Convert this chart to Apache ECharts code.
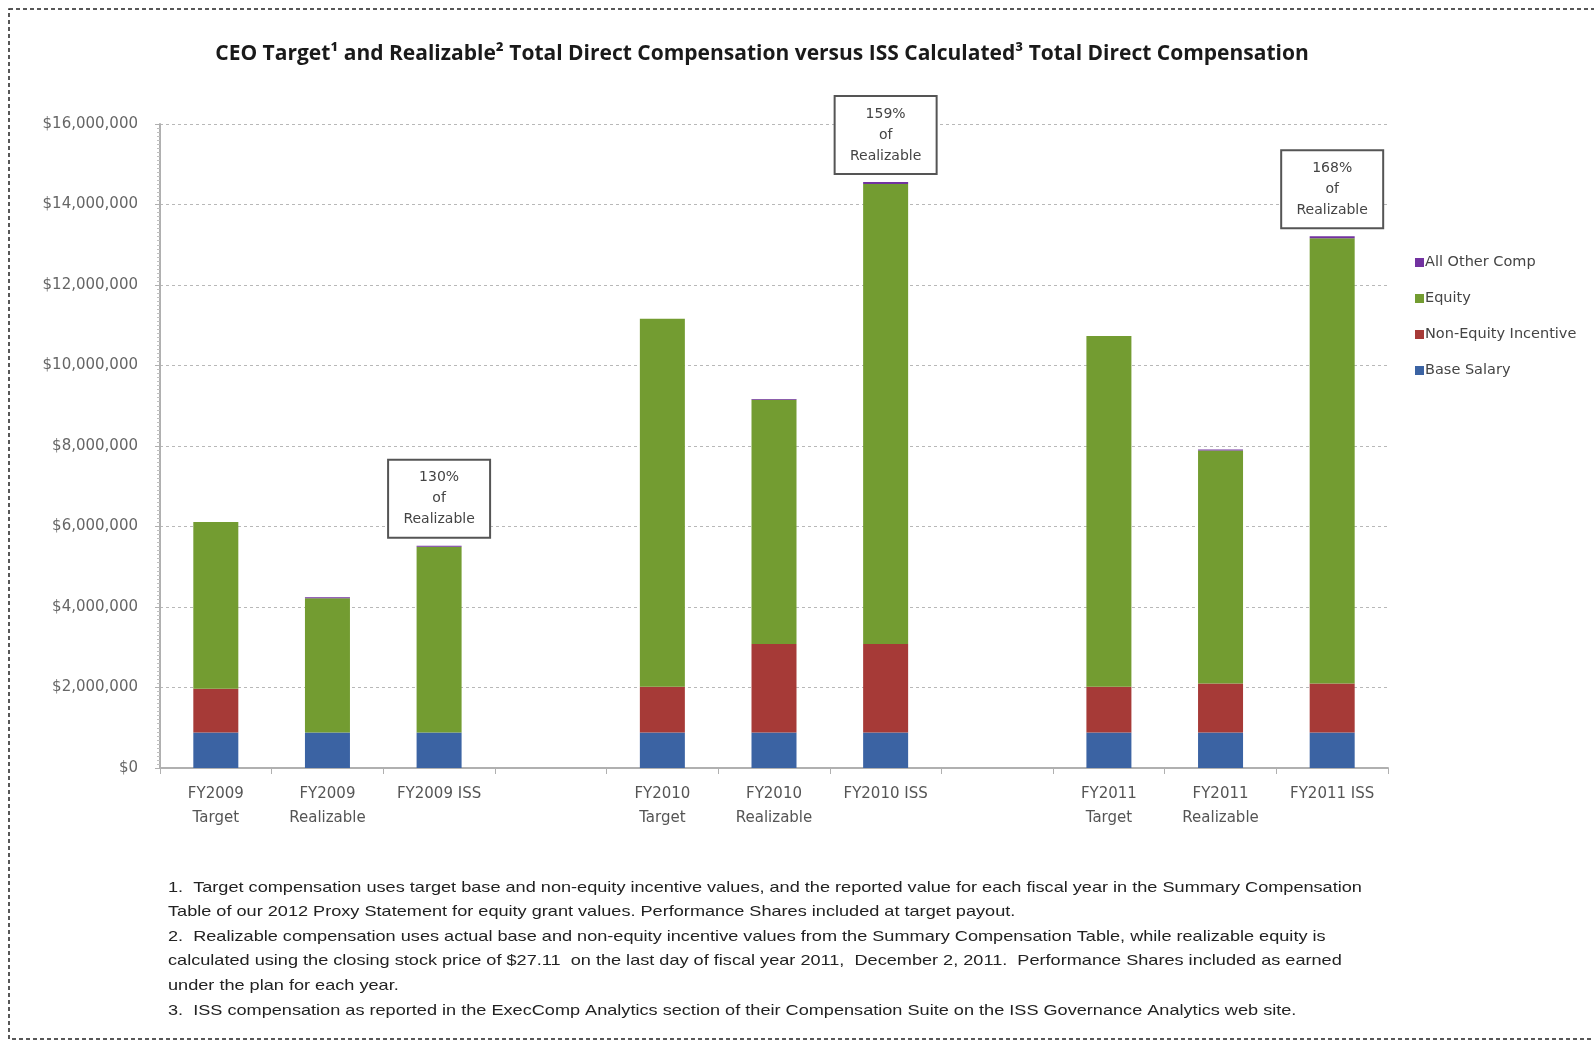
<!DOCTYPE html>
<html>
<head>
<meta charset="utf-8">
<script src="https://cdn.jsdelivr.net/npm/echarts@6/dist/echarts.min.js"></script>
<style>
  html, body { margin: 0; padding: 0; background: #fff; }
  #vis { width: 1594px; height: 1042px; }
</style>
</head>
<body>
<div id="vis"></div>
<script>
// chart data (blank slots separate the fiscal years)
const categories = ['FY2009\nTarget', 'FY2009\nRealizable', 'FY2009 ISS', '',
  'FY2010\nTarget', 'FY2010\nRealizable', 'FY2010 ISS', '',
  'FY2011\nTarget', 'FY2011\nRealizable', 'FY2011 ISS'];
const baseSalary = [880000, 880000, 880000, '-', 880000, 880000, 880000, '-', 880000, 880000, 880000];
const nonEquity = [1090000, 0, 0, '-', 1140000, 2200000, 2200000, '-', 1140000, 1220000, 1220000];
const equity = [4140000, 3340000, 4620000, '-', 9140000, 6070000, 11430000, '-', 8710000, 5790000, 11060000];
const allOther = [0, 20000, 20000, '-', 0, 20000, 50000, '-', 0, 20000, 50000];
const yTicks = [0, 2000000, 4000000, 6000000, 8000000, 10000000, 12000000, 14000000, 16000000];

// annotation boxes over the ISS bars
const notes = [
  { idx: 2, text: '130%\nof\nRealizable' },
  { idx: 6, text: '159%\nof\nRealizable' },
  { idx: 10, text: '168%\nof\nRealizable' }
];

const font = '"DejaVu Sans", sans-serif';
const colors = { base: '#3b63a3', ne: '#a63a37', eq: '#739c31', other: '#7232a0' };

const vis = document.getElementById('vis');
const chart = echarts.init(vis, null, { renderer: 'canvas' });

function fmtMoney(v) {
  return '$' + v.toString().replace(/\B(?=(\d{3})+(?!\d))/g, ',');
}

const options = {
  animation: false,
  backgroundColor: '#fff',
  title: {
    text: 'CEO Target\u00b9 and Realizable\u00b2 Total Direct Compensation versus ISS Calculated\u00b3 Total Direct Compensation',
    left: 757, top: 39, textAlign: 'center',
    textStyle: { fontFamily: '"Open Sans", sans-serif', fontWeight: 'bold', fontSize: 21, color: '#1a1a1a' }
  },
  grid: { left: 160, right: 206, top: 124, bottom: 274 },
  legend: {
    orient: 'vertical', left: 1410, top: 250, itemGap: 21,
    itemWidth: 9, itemHeight: 9, icon: 'rect',
    data: ['All Other Comp', 'Equity', 'Non-Equity Incentive', 'Base Salary'],
    textStyle: { fontFamily: font, fontSize: 14.5, color: '#444', padding: [0, 0, 0, -4] }
  },
  xAxis: {
    type: 'category', data: categories,
    axisLine: { lineStyle: { color: '#b0b0b0', width: 2 } },
    axisTick: { show: true, length: 6, lineStyle: { color: '#b0b0b0' } },
    axisLabel: { fontFamily: font, fontSize: 15, color: '#555', lineHeight: 24, margin: 14, interval: 0 }
  },
  yAxis: {
    type: 'value', min: 0, max: 16000000, interval: 2000000,
    axisLine: { show: true, lineStyle: { color: '#b0b0b0', width: 2 } },
    axisTick: { show: true, length: 5, lineStyle: { color: '#b0b0b0' } },
    minorTick: { show: true, splitNumber: 20, length: 3, lineStyle: { color: '#c0c0c0' } },
    splitLine: { lineStyle: { color: '#b8b8b8', type: [3, 3] } },
    axisLabel: {
      fontFamily: font, fontSize: 15, color: '#666', margin: 22,
      formatter: (v) => yTicks.includes(v) ? fmtMoney(v) : ''
    }
  },
  series: [
    { name: 'Base Salary', type: 'bar', stack: 'tdc', data: baseSalary, barWidth: 45, itemStyle: { color: colors.base } },
    { name: 'Non-Equity Incentive', type: 'bar', stack: 'tdc', data: nonEquity, itemStyle: { color: colors.ne } },
    { name: 'Equity', type: 'bar', stack: 'tdc', data: equity, itemStyle: { color: colors.eq } },
    { name: 'All Other Comp', type: 'bar', stack: 'tdc', data: allOther, itemStyle: { color: colors.other } }
  ]
};

chart.setOption(options);

// footnotes, annotation boxes and the dashed frame
const footLines = [
  '1.  Target compensation uses target base and non-equity incentive values, and the reported value for each fiscal year in the Summary Compensation',
  'Table of our 2012 Proxy Statement for equity grant values. Performance Shares included at target payout.',
  '2.  Realizable compensation uses actual base and non-equity incentive values from the Summary Compensation Table, while realizable equity is',
  'calculated using the closing stock price of $27.11  on the last day of fiscal year 2011,  December 2, 2011.  Performance Shares included as earned',
  'under the plan for each year.',
  '3.  ISS compensation as reported in the ExecComp Analytics section of their Compensation Suite on the ISS Governance Analytics web site.'
];

const graphics = [
  {
    type: 'rect', shape: { x: 9, y: 9, width: 1620, height: 1030 },
    style: { fill: 'none', stroke: '#222', lineWidth: 1.5, lineDash: [4, 3] }, silent: true
  }
];
footLines.forEach((t, i) => {
  graphics.push({
    type: 'text', x: 168, y: 880 + i * 24.6, scaleX: 1.25,
    style: { text: t, font: '14.5px "Liberation Sans", sans-serif', fill: '#222' }
  });
});
notes.forEach((n) => {
  let total = 0;
  [baseSalary, nonEquity, equity, allOther].forEach(a => { total += a[n.idx]; });
  const p = chart.convertToPixel({ gridIndex: 0 }, [n.idx, total]);
  const w = 102, h = 78;
  graphics.push({
    type: 'group', x: p[0] - w / 2, y: p[1] - h - 8,
    children: [
      { type: 'rect', shape: { x: 0, y: 0, width: w, height: h },
        style: { fill: '#fff', stroke: '#555', lineWidth: 2 } },
      { type: 'text', x: w / 2, y: h / 2,
        style: { text: n.text, font: '14px ' + font, fill: '#444', align: 'center', verticalAlign: 'middle', lineHeight: 21 } }
    ]
  });
});
chart.setOption({ graphic: graphics });
</script>
</body>
</html>
